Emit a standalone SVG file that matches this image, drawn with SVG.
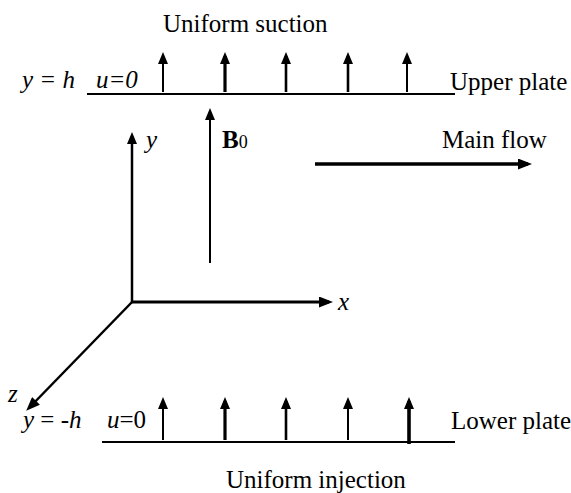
<svg xmlns="http://www.w3.org/2000/svg" width="571" height="493" viewBox="0 0 571 493">
<style>
text{font-family:"Liberation Serif","Times New Roman",serif;font-size:25px;fill:#000}
.i{font-style:italic}
.ln{stroke:#000;fill:none}
</style>
<defs>
<marker id="ah" markerUnits="userSpaceOnUse" viewBox="0 0 12 10" refX="8" refY="5" markerWidth="12" markerHeight="10" orient="auto">
<path d="M0,0 L12,5 L0,10 z" fill="#000"/>
</marker>
<marker id="ahb" markerUnits="userSpaceOnUse" viewBox="0 0 14 11" refX="10" refY="5.5" markerWidth="14" markerHeight="11" orient="auto">
<path d="M0,0 L14,5.5 L0,11 z" fill="#000"/>
</marker>
</defs>
<rect width="571" height="493" fill="#fff"/>
<g id="connectors">
<line class="ln" x1="87" y1="94" x2="455" y2="94" stroke-width="2"/>
<line class="ln" x1="102" y1="442" x2="455" y2="442" stroke-width="2"/>
<line class="ln" x1="163" y1="92" x2="163" y2="56" stroke-width="2" marker-end="url(#ah)"/>
<line class="ln" x1="225" y1="92" x2="225" y2="56" stroke-width="3.2" marker-end="url(#ah)"/>
<line class="ln" x1="286" y1="92" x2="286" y2="56" stroke-width="2.6" marker-end="url(#ah)"/>
<line class="ln" x1="348" y1="92" x2="348" y2="56" stroke-width="2.6" marker-end="url(#ah)"/>
<line class="ln" x1="407" y1="92" x2="407" y2="56" stroke-width="2" marker-end="url(#ah)"/>
<line class="ln" x1="163" y1="440" x2="163" y2="401" stroke-width="2" marker-end="url(#ah)"/>
<line class="ln" x1="225" y1="440" x2="225" y2="401" stroke-width="3.2" marker-end="url(#ah)"/>
<line class="ln" x1="286" y1="440" x2="286" y2="401" stroke-width="2.6" marker-end="url(#ah)"/>
<line class="ln" x1="348" y1="440" x2="348" y2="401" stroke-width="2" marker-end="url(#ah)"/>
<line class="ln" x1="409" y1="444" x2="409" y2="401" stroke-width="3.6" marker-end="url(#ah)"/>
<line class="ln" x1="210" y1="263" x2="210" y2="112" stroke-width="2" marker-end="url(#ah)"/>
<line class="ln" x1="132" y1="302" x2="132" y2="136" stroke-width="2.5" marker-end="url(#ah)"/>
<line class="ln" x1="131" y1="302" x2="329" y2="302" stroke-width="3" marker-end="url(#ahb)"/>
<line class="ln" x1="133" y1="301" x2="29" y2="408" stroke-width="2.5" marker-end="url(#ahb)"/>
<line class="ln" x1="315" y1="164" x2="528" y2="164" stroke-width="3.5" marker-end="url(#ahb)"/>
</g>
<g id="labels">
<text x="163" y="32">Uniform suction</text>
<text x="22" y="88" class="i">y = h</text>
<text x="96" y="88" class="i">u=0</text>
<text x="450" y="90">Upper plate</text>
<text x="146" y="148" class="i">y</text>
<text x="222" y="148" font-weight="bold">B<tspan font-weight="normal" font-size="18">0</tspan></text>
<text x="442" y="148">Main flow</text>
<text x="338" y="310" class="i">x</text>
<text x="8" y="402" class="i">z</text>
<text x="23" y="428"><tspan class="i">y</tspan> = -<tspan class="i">h</tspan></text>
<text x="107" y="428"><tspan class="i">u</tspan>=0</text>
<text x="451" y="429">Lower plate</text>
<text x="226" y="488">Uniform injection</text>
</g>
</svg>
